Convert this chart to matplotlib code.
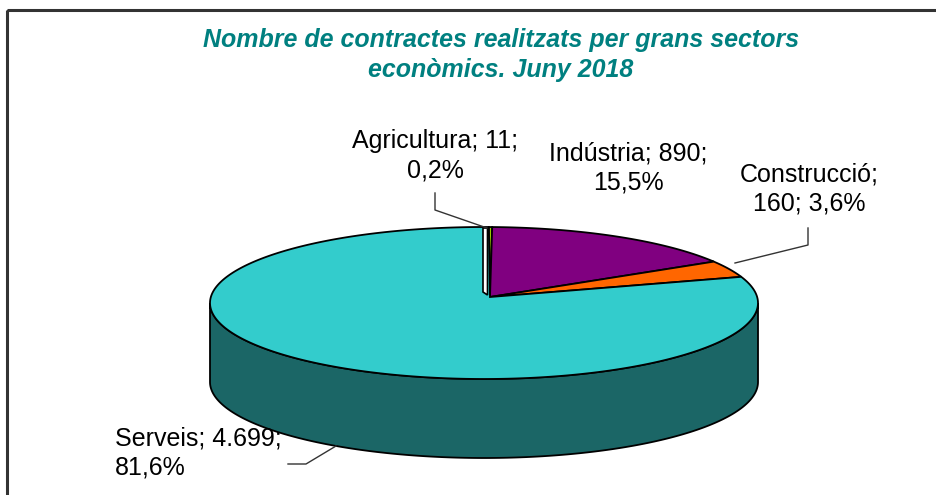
import numpy as np
import matplotlib.pyplot as plt
from matplotlib.patches import Polygon, Rectangle

# ── dades ─────────────────────────────────────────
sectors = ['Agricultura', 'Indústria', 'Construcció', 'Serveis']
contractes = [11, 890, 160, 4699]
contractes_txt = ['11', '890', '160', '4.699']
percent = [0.2, 15.5, 3.6, 81.6]
percent_txt = ['0,2%', '15,5%', '3,6%', '81,6%']

top_colors = ['#99CC00', '#800080', '#FF6600', '#33CCCC']
side_colors = ['#5C7A00', '#4D004D', '#993D00', '#1B6666']

plt.rcParams['font.family'] = ['Liberation Sans', 'DejaVu Sans']

fig = plt.figure(figsize=(9.36, 4.95), dpi=100)
ax = fig.add_axes([0, 0, 1, 1])
ax.set_xlim(0, 936)
ax.set_ylim(495, 0)
ax.axis('off')

# marc del gràfic
ax.add_patch(Rectangle((6.5, 9.5), 940, 500, fill=False, ec='#333333', lw=2.2, zorder=1))

# ── geometria del pastís 3D ──────────────────────
cx, cy = 484, 303      # centre de l'el·lipse superior
a, b = 274, 76         # semieixos
depth = 79             # gruix
apex = (490, 297)      # vèrtex de les porcions
start = 1.0            # angle inicial (graus, sentit horari des de dalt)


def pt(theta_deg, dy=0):
    t = np.radians(theta_deg)
    return cx + a * np.sin(t), cy - b * np.cos(t) + dy


frac = np.array(percent) / np.sum(percent)
ends = start + np.cumsum(frac) * 360
starts = ends - frac * 360

# costat visible (meitat davantera)
for s, e, sc in zip(starts, ends, side_colors):
    lo, hi = max(s, 90), min(e, 270)
    if hi <= lo:
        continue
    th = np.linspace(lo, hi, 200)
    upper = [pt(t) for t in th]
    lower = [pt(t, depth) for t in th[::-1]]
    ax.add_patch(Polygon(upper + lower, closed=True, fc=sc, ec='black', lw=1.3, zorder=2))

# cares superiors
for s, e, tc in zip(starts, ends, top_colors):
    th = np.linspace(s, e, 300)
    pts = [apex] + [pt(t) for t in th]
    ax.add_patch(Polygon(pts, closed=True, fc=tc, ec='black', lw=1.3, zorder=3))

# paret blanca a l'inici de Serveis
x0, y0 = pt(0)
ax.add_patch(Polygon([(x0 - 1, y0 + 1), (x0 + 3.5, y0 + 1), (x0 + 3.5, apex[1] - 2), (x0 - 1, apex[1] - 5)],
                     closed=True, fc='white', ec='black', lw=1.2, zorder=4))

# ── etiquetes ────────────────────────────────────
lab_fs = 18
lbl = [f'{n}; {c};\n{p}' for n, c, p in zip(sectors, contractes_txt, percent_txt)]
ax.text(435, 156, lbl[0], ha='center', va='center', fontsize=lab_fs, linespacing=1.28, zorder=5)
ax.text(628, 168, lbl[1], ha='center', va='center', fontsize=lab_fs, linespacing=1.28, zorder=5)
ax.text(809, 189, f'{sectors[2]};\n{contractes_txt[2]}; {percent_txt[2]}',
        ha='center', va='center', fontsize=lab_fs, linespacing=1.28, zorder=5)
ax.text(115, 453, lbl[3], ha='left', va='center', fontsize=lab_fs, linespacing=1.28, zorder=5)

# línies guia
ax.plot([435, 435, 487], [193, 210, 228], color='#333333', lw=1, zorder=5)
ax.plot([808, 808, 735], [228, 245, 263], color='#333333', lw=1, zorder=5)
ax.plot([288, 306, 336], [464, 464, 446], color='#333333', lw=1, zorder=5)

# títol
ax.text(501, 55, 'Nombre de contractes realitzats per grans sectors\neconòmics. Juny 2018',
        ha='center', va='center', fontsize=18, fontweight='bold', fontstyle='italic',
        color='#008080', linespacing=1.36, zorder=5)

fig.savefig('out.png', dpi=100)
